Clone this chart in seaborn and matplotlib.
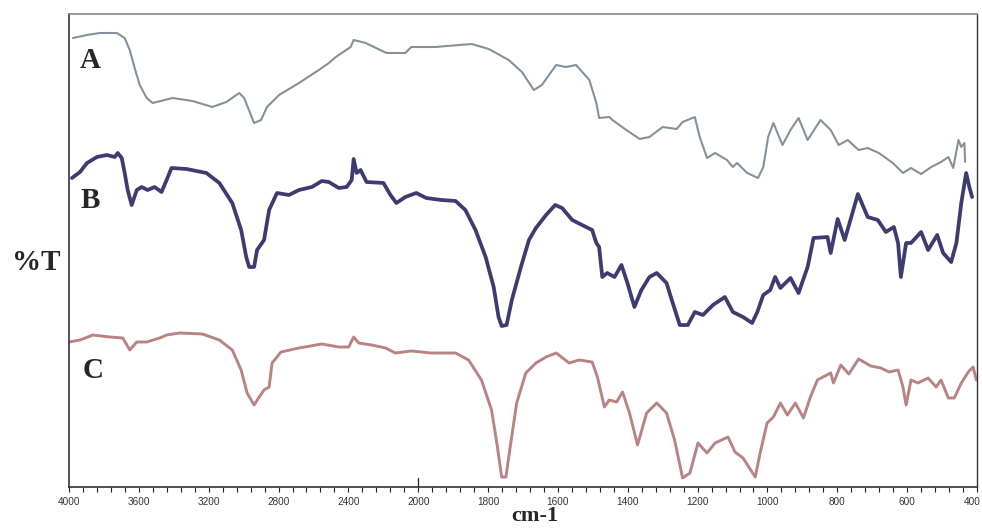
import numpy as np
import pandas as pd
import matplotlib
matplotlib.use("Agg")
import matplotlib.pyplot as plt
import matplotlib.transforms as mtransforms
import seaborn as sns

# ---------------- data (wavenumber in cm-1, relative %T offsets) ----------------
a_wn = [3977, 3897, 3823, 3726, 3681, 3652, 3624, 3595, 3555, 3521, 3407, 3293, 3179, 3099,
        3025, 2997, 2940, 2900, 2866, 2797, 2683, 2569, 2512, 2472, 2438, 2387, 2370, 2301,
        2182, 2074, 2040, 1951, 1847, 1798, 1741, 1703, 1669, 1646, 1605, 1577, 1548, 1510,
        1490, 1482, 1453, 1444, 1404, 1366, 1338, 1300, 1260, 1243, 1208, 1194, 1173, 1150,
        1116, 1099, 1087, 1058, 1027, 1012, 998, 983, 957, 934, 911, 885, 848, 819, 796,
        770, 739, 713, 681, 641, 612, 589, 560, 531, 503, 482, 468, 453, 445, 436, 434]
a_t = [449, 452, 454, 454, 449, 437, 419, 402, 389, 384, 389, 386, 380, 385,
       394, 389, 364, 367, 380, 392, 404, 417, 424, 430, 434, 440, 447, 444,
       434, 434, 440, 440, 443, 438, 427, 415, 397, 402, 422, 420, 422, 407,
       384, 369, 370, 367, 357, 348, 350, 360, 358, 365, 370, 350, 329, 334,
       327, 320, 324, 314, 309, 320, 350, 364, 342, 357, 369, 347, 367, 357, 342,
       347, 337, 339, 334, 324, 314, 319, 313, 320, 325, 330, 319, 347, 340, 344, 325]

b_wn = [3983, 3937, 3897, 3840, 3783, 3738, 3721, 3698, 3681, 3664, 3641, 3612, 3584, 3550,
        3510, 3470, 3441, 3413, 3327, 3213, 3139, 3065, 3014, 2985, 2968, 2940, 2923, 2883,
        2854, 2809, 2740, 2683, 2609, 2552, 2512, 2455, 2410, 2381, 2370, 2353, 2330, 2296,
        2199, 2159, 2125, 2074, 2011, 1977, 1934, 1893, 1865, 1836, 1807, 1784, 1770, 1761,
        1747, 1732, 1706, 1683, 1663, 1634, 1608, 1588, 1559, 1531, 1502, 1490, 1482, 1473,
        1459, 1438, 1418, 1401, 1381, 1361, 1338, 1317, 1289, 1274, 1251, 1228, 1208, 1185,
        1156, 1122, 1099, 1070, 1044, 1029, 1012, 992, 978, 963, 934, 911, 885, 868, 828,
        819, 799, 779, 741, 713, 684, 661, 638, 626, 618, 603, 589, 560, 540, 514, 497,
        474, 459, 445, 431, 422, 414]
b_t = [309, 315, 324, 330, 332, 330, 334, 329, 314, 297, 282, 297, 300, 297,
       300, 295, 307, 319, 318, 314, 304, 284, 257, 230, 220, 220, 237, 247,
       277, 294, 292, 297, 300, 306, 305, 299, 300, 307, 328, 314, 317, 305,
       304, 292, 284, 290, 294, 289, 287, 286, 277, 257, 230, 200, 170, 161,
       162, 187, 220, 247, 259, 272, 282, 279, 267, 262, 257, 244, 240, 210,
       214, 210, 222, 204, 180, 197, 210, 214, 204, 187, 162, 162, 175, 172,
       182, 190, 175, 170, 164, 175, 192, 197, 210, 199, 209, 194, 220, 249, 250,
       234, 268, 247, 293, 270, 267, 255, 260, 244, 210, 244, 244, 255, 237, 252, 234,
       225, 244, 284, 314, 300, 290]

c_wn = [4000, 3937, 3863, 3766, 3692, 3652, 3612, 3555, 3481, 3441, 3367, 3236, 3139, 3065,
        3014, 2980, 2940, 2911, 2883, 2854, 2837, 2786, 2683, 2552, 2455, 2398, 2370, 2341,
        2267, 2187, 2131, 2040, 1963, 1893, 1856, 1819, 1790, 1775, 1761, 1749, 1735, 1718,
        1692, 1663, 1634, 1605, 1568, 1539, 1502, 1487, 1467, 1453, 1432, 1415, 1395, 1372,
        1346, 1317, 1289, 1266, 1243, 1222, 1199, 1173, 1150, 1113, 1093, 1070, 1035, 1021,
        1001, 983, 963, 943, 920, 897, 877, 857, 819, 811, 790, 767, 739, 704, 675, 652,
        626, 612, 603, 589, 569, 540, 517, 503, 482, 465, 445, 425, 411, 402]
c_t = [145, 147, 152, 150, 149, 137, 145, 145, 149, 152, 154, 153, 147, 137,
       117, 94, 82, 90, 97, 100, 124, 135, 139, 143, 140, 140, 150, 144,
       142, 139, 134, 136, 134, 134, 127, 107, 77, 44, 10, 10, 44, 84,
       114, 124, 130, 134, 124, 127, 125, 110, 80, 87, 85, 95, 74, 42,
       74, 84, 74, 47, 9, 14, 44, 34, 44, 50, 35, 29, 10, 34,
       64, 70, 84, 72, 84, 69, 90, 107, 114, 104, 122, 113, 128, 121, 119, 115,
       117, 100, 82, 107, 104, 109, 100, 107, 89, 89, 104, 115, 120, 107]

sample_names = ["A", "B", "C"]
major_ticks = [4000, 3600, 3200, 2800, 2400, 2000, 1800, 1600, 1400, 1200, 1000, 800, 600, 400]
x_label = "cm-1"
y_label = "%T"

# ---------------- build a tidy frame ----------------
df = pd.concat([
    pd.DataFrame({"wn": a_wn, "T": a_t, "sample": "A"}),
    pd.DataFrame({"wn": b_wn, "T": b_t, "sample": "B"}),
    pd.DataFrame({"wn": c_wn, "T": c_t, "sample": "C"}),
], ignore_index=True)

sns.set_theme(style="white")
plt.rcParams["font.family"] = ["DejaVu Sans"]

fig = plt.figure(figsize=(9.82, 5.31), dpi=100)
ax = fig.add_axes([69 / 982, 1 - 487 / 531, (977 - 69) / 982, (487 - 14) / 531])


# piecewise axis: 4000-2000 compressed by a factor 2 (as in FTIR plots)
def fwd(w):
    w = np.asarray(w, dtype=float)
    return np.where(w <= 2000, w - 400, 1600 + (w - 2000) / 2)


def inv(u):
    u = np.asarray(u, dtype=float)
    return np.where(u <= 1600, u + 400, 2000 + (u - 1600) * 2)


ax.set_xscale("function", functions=(fwd, inv))

palette = {"A": "#84919b", "B": "#3d3b70", "C": "#b98384"}
widths = {"A": 1.5, "B": 2.7, "C": 2.1}
for name in sample_names:
    sub = df[df["sample"] == name]
    sns.lineplot(data=sub, x="wn", y="T", ax=ax, color=palette[name],
                 linewidth=widths[name], sort=False, estimator=None, legend=False)

ax.set_xlim(4000, 400)
ax.set_ylim(0, 473)

# ticks
minor = list(np.arange(4000, 2000, -80)) + list(np.arange(2000, 399, -40))
ax.set_xticks(major_ticks)
ax.set_xticklabels([str(t) for t in major_ticks], fontsize=7.2, color="#333333",
                   family="Liberation Sans")
ax.set_xticks(minor, minor=True)
ax.tick_params(axis="x", which="both", direction="out", length=3.5, width=0.8,
               color="#222222", pad=3.5, bottom=True)
ax.set_yticks([])
ax.axvline(2000, ymin=0, ymax=0.018, color="#222222", lw=0.9)

# keep the last tick label inside the canvas
last = ax.get_xticklabels()[-1]
last.set_horizontalalignment("right")
last.set_transform(last.get_transform() + mtransforms.ScaledTranslation(4 / 100, 0, fig.dpi_scale_trans))

for side in ["left", "bottom"]:
    ax.spines[side].set_color("#333333")
    ax.spines[side].set_linewidth(1.2)
ax.spines["top"].set_color("#888888")
ax.spines["top"].set_linewidth(1.2)
ax.spines["right"].set_color("#333333")
ax.spines["right"].set_linewidth(1.0)

ax.set_xlabel("")
ax.set_ylabel("")

serif = ["Liberation Serif", "DejaVu Serif"]
fig.text(36 / 982, 1 - 262 / 531, y_label, fontsize=21, fontweight="bold",
         family=serif, ha="center", va="center")
fig.text(535 / 982, 1 - 521 / 531, x_label, fontsize=16, fontweight="bold",
         family=serif, ha="center", va="baseline")

label_pos = {"A": (90, 60), "B": (90, 201), "C": (93, 370)}
for name in sample_names:
    px, py = label_pos[name]
    fig.text(px / 982, 1 - py / 531, name, fontsize=21, fontweight="bold",
             family=serif, ha="center", va="center")

fig.savefig("out.png", dpi=100)
